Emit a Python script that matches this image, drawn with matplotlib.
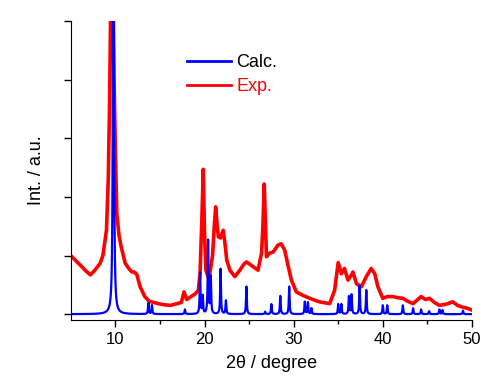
import numpy as np
import matplotlib
matplotlib.use("Agg")
import matplotlib.pyplot as plt

plt.rcParams['font.family'] = ['Liberation Sans', 'DejaVu Sans']

# calculated pattern: peak positions (2theta) and heights
calc_pos = [9.78, 13.7, 14.1, 17.8, 19.5, 19.8, 20.4, 20.7, 21.8, 22.4, 24.7, 26.8,
            27.5, 28.5, 29.5, 31.25, 31.6, 32.0, 35.0, 35.35, 36.2, 36.5, 37.4, 38.15,
            40.0, 40.5, 42.25, 43.4, 44.3, 45.2, 46.35, 46.7, 49.0]
calc_height = [12, 0.19, 0.15, 0.08, 0.7, 0.3, 1.25, 0.63, 0.77, 0.23, 0.47, 0.04,
               0.17, 0.31, 0.47, 0.21, 0.2, 0.1, 0.17, 0.17, 0.3, 0.33, 0.48, 0.41,
               0.15, 0.15, 0.15, 0.1, 0.08, 0.05, 0.08, 0.07, 0.06]
calc_fwhm = 0.1

exp_2theta = [5.0, 5.5, 6.05, 6.6, 7.2, 7.7, 8.3, 8.6, 9.0, 9.2, 9.35, 9.5, 9.7, 9.85,
              10.0, 10.16, 10.4, 10.65, 11.1, 11.5, 11.85, 12.1, 12.4, 12.77, 13.3, 13.8,
              14.3, 14.8, 15.5, 16.2, 16.9, 17.4, 17.7, 18.0, 18.5, 18.9, 19.3, 19.5,
              19.7, 19.86, 20.0, 20.16, 20.4, 20.6, 20.9, 21.1, 21.25, 21.4, 21.55, 21.8,
              22.1, 22.3, 22.5, 22.85, 23.4, 23.97, 24.4, 24.7, 25.1, 25.45, 26.0, 26.4,
              26.55, 26.7, 26.85, 26.95, 27.3, 27.7, 28.25, 28.6, 29.0, 29.4, 29.75, 30.3,
              31.05, 31.8, 32.9, 34.05, 34.6, 35.0, 35.35, 35.7, 36.1, 36.5, 36.65, 37.05,
              37.6, 38.15, 38.7, 39.1, 39.45, 40.0, 40.5, 41.15, 41.7, 42.25, 42.8, 43.4,
              44.3, 44.8, 45.25, 45.8, 46.35, 47.1, 47.85, 48.4, 48.95, 49.5, 50.0]
exp_int = [1.0, 0.92, 0.84, 0.75, 0.67, 0.75, 0.87, 1.0, 1.43, 2.3, 3.6, 5.6, 5.6, 4.0,
           2.8, 1.72, 1.35, 1.15, 0.87, 0.78, 0.72, 0.72, 0.68, 0.47, 0.3, 0.22,
           0.2, 0.18, 0.16, 0.15, 0.18, 0.2, 0.38, 0.25, 0.3, 0.34, 0.4, 0.7,
           1.6, 2.47, 1.4, 0.75, 0.64, 0.7, 1.0, 1.5, 1.83, 1.55, 1.32, 1.3,
           1.43, 1.2, 0.92, 0.75, 0.64, 0.75, 0.85, 0.89, 0.85, 0.81, 0.75, 1.04,
           1.5, 2.22, 1.5, 0.98, 1.04, 1.06, 1.18, 1.2, 1.09, 0.81, 0.58, 0.38,
           0.32, 0.27, 0.21, 0.18, 0.41, 0.88, 0.69, 0.78, 0.58, 0.67, 0.72, 0.52,
           0.47, 0.64, 0.78, 0.69, 0.47, 0.27, 0.3, 0.3, 0.28, 0.27, 0.22, 0.18,
           0.3, 0.25, 0.27, 0.2, 0.15, 0.17, 0.21, 0.15, 0.12, 0.1, 0.07]

# build calculated profile from the peak list (Lorentzian lines)
tt = np.linspace(5, 50, 4501)
hw = calc_fwhm / 2
calc = np.zeros_like(tt)
for p, h in zip(calc_pos, calc_height):
    calc += h * hw**2 / ((tt - p)**2 + hw**2)

fig = plt.figure(figsize=(4.85, 3.81), dpi=100)
ax = fig.add_axes([0.146, 0.160, 0.827, 0.785])

l_exp, = ax.plot(exp_2theta, exp_int, color='#ff0000', lw=2.6, label='Exp.')
l_calc, = ax.plot(tt, calc, color='#0000ff', lw=1.6, label='Calc.')

ax.set_xlim(5, 50)
ax.set_ylim(-0.1, 5)
ax.set_xticks([10, 20, 30, 40, 50])
ax.set_xticks([15, 25, 35, 45], minor=True)
ax.set_yticks([0, 1, 2, 3, 4, 5])
ax.set_yticklabels([])
ax.tick_params(direction='out', length=5, width=1, labelsize=12)
ax.tick_params(which='minor', direction='out', length=3, width=1)
for s in ['top', 'right']:
    ax.spines[s].set_visible(False)

ax.set_xlabel('2θ / degree', fontsize=13, labelpad=6)
ax.set_ylabel('Int. / a.u.', fontsize=13, labelpad=10)

leg = ax.legend(handles=[l_calc, l_exp], loc='upper left', bbox_to_anchor=(0.29, 0.888),
                frameon=False, fontsize=13, handlelength=2.45, handletextpad=0.28,
                labelspacing=0.38, borderpad=0, borderaxespad=0)
for line in leg.get_lines():
    line.set_linewidth(2)
leg.get_texts()[1].set_color('#ff0000')

fig.savefig('out.png', dpi=100, facecolor='white')
